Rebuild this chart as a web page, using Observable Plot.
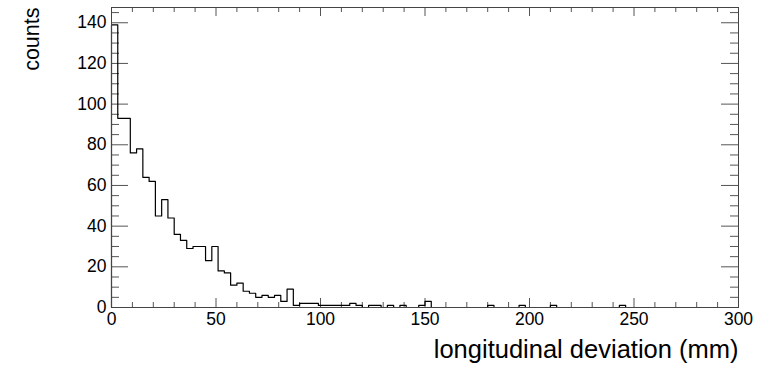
<!DOCTYPE html>
<html><head><meta charset="utf-8">
<script src="https://cdn.jsdelivr.net/npm/d3@7"></script>
<script src="https://cdn.jsdelivr.net/npm/@observablehq/plot@0.6"></script>
<style>body{margin:0;background:#fff}</style>
</head><body><div id="chart"></div>
<script>
// histogram: 100 bins of width 3 mm over [0, 300]
const binWidth = 3;
const counts = [
  139, 93, 93, 76, 78, 64, 62, 45, 53, 44,
  36, 33, 29, 30, 30, 23, 30, 18, 17, 11,
  12, 8, 7, 5, 6, 5, 6, 3, 9, 1,
  2, 2, 2, 1, 1, 1, 1, 1, 2, 1,
  0, 1, 1, 0, 1, 0, 1, 0, 0, 1,
  3, 0, 0, 0, 0, 0, 0, 0, 0, 0,
  1, 0, 0, 0, 0, 1, 0, 0, 0, 0,
  1, 0, 0, 0, 0, 0, 0, 0, 0, 0,
  0, 1, 0, 0, 0, 0, 0, 0, 0, 0,
  0, 0, 0, 0, 0, 0, 0, 0, 0, 0
];
const xMajor = [0, 50, 100, 150, 200, 250, 300];
const xMinor = [10, 20, 30, 40, 60, 70, 80, 90, 110, 120, 130, 140, 160, 170, 180, 190, 210, 220, 230, 240, 260, 270, 280, 290];
const yMajor = [0, 20, 40, 60, 80, 100, 120, 140];
const yMinor = [5, 10, 15, 25, 30, 35, 45, 50, 55, 65, 70, 75, 85, 90, 95, 105, 110, 115, 125, 130, 135, 145];
const xTitle = "longitudinal deviation (mm)";
const yTitle = "counts";

const W = 768, H = 369;
const mL = 111, mR = 30, mT = 7, mB = 62;
const fw = W - mL - mR, fh = H - mT - mB;

const steps = [{x: 0, y: 0}];
counts.forEach((c, i) => steps.push({x: i * binWidth, y: c}));
steps.push({x: counts.length * binWidth, y: 0});

const tickStyle = {stroke: "#555", strokeWidth: 1};
const chart = Plot.plot({
  width: W, height: H,
  marginLeft: mL, marginRight: mR, marginTop: mT, marginBottom: mB,
  style: {fontFamily: "'Liberation Sans', Arial, sans-serif", fontSize: "17.5px", color: "#000", background: "#fff"},
  x: {domain: [0, 300]},
  y: {domain: [0, 147.5]},
  marks: [
    Plot.axisX(xMajor, {tickSize: 0, tickPadding: 5, fontSize: 17.5, label: null}),
    Plot.axisY(yMajor, {tickSize: 0, tickPadding: 5, fontSize: 17.5, label: null}),
    // bottom / top ticks
    Plot.tickX(xMajor, {x: d => d, insetTop: fh - 9, ...tickStyle}),
    Plot.tickX(xMinor, {x: d => d, insetTop: fh - 5, ...tickStyle}),
    Plot.tickX(xMajor, {x: d => d, insetBottom: fh - 9, ...tickStyle}),
    Plot.tickX(xMinor, {x: d => d, insetBottom: fh - 5, ...tickStyle}),
    // left / right ticks
    Plot.tickY(yMajor, {y: d => d, insetRight: fw - 17, ...tickStyle}),
    Plot.tickY(yMinor, {y: d => d, insetRight: fw - 8, ...tickStyle}),
    Plot.tickY(yMajor, {y: d => d, insetLeft: fw - 17, ...tickStyle}),
    Plot.tickY(yMinor, {y: d => d, insetLeft: fw - 8, ...tickStyle}),
    Plot.line(steps, {x: "x", y: "y", curve: "step-after", stroke: "#000", strokeWidth: 1.2}),
    Plot.frame({stroke: "#444", strokeWidth: 1}),
    Plot.text([xTitle], {text: d => d, frameAnchor: "bottom-right", textAnchor: "end", lineAnchor: "bottom", dy: 50, fontSize: 25.5, fill: "#000"}),
    Plot.text([yTitle], {text: d => d, frameAnchor: "top-left", rotate: -90, textAnchor: "end", lineAnchor: "bottom", dx: -73, fontSize: 21.5, fill: "#000"})
  ]
});
document.getElementById("chart").appendChild(chart);
</script>
</body></html>
